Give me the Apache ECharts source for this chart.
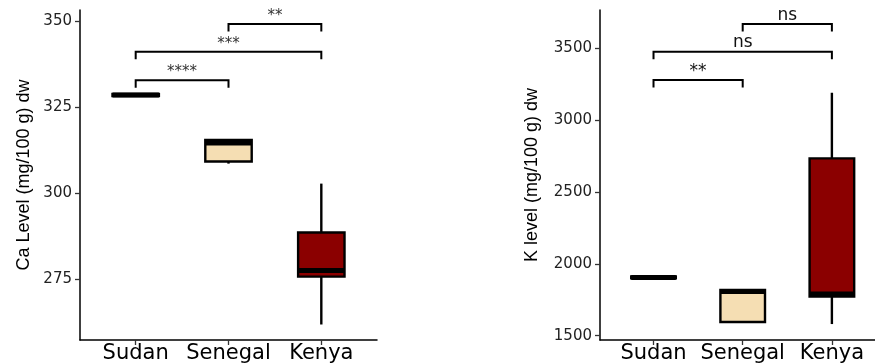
<!DOCTYPE html>
<html>
<head>
<meta charset="utf-8">
<script src="https://cdn.jsdelivr.net/npm/echarts@6/dist/echarts.min.js"></script>
<style>html,body{margin:0;padding:0;background:#fff}#c{width:875px;height:364px}</style>
</head>
<body>
<div id="c"></div>
<script>
// ---- data ----
const categories = ['Sudan', 'Senegal', 'Kenya'];
const caTicks = [275, 300, 325, 350];
const kTicks = [1500, 2000, 2500, 3000, 3500];

// Ca level box stats (per category: Sudan, Senegal, Kenya)
const caLow    = [328.0, 308.6, 261.9];
const caQ1     = [328.2, 309.2, 275.8];
const caMedian = [328.5, 314.6, 277.6];
const caQ3     = [328.8, 315.5, 288.6];
const caHigh   = [329.0, 315.5, 302.8];

// K level box stats
const kLow    = [1895, 1590, 1581];
const kQ1     = [1900, 1595, 1772];
const kMedian = [1905, 1808, 1790];
const kQ3     = [1912, 1818, 2734];
const kHigh   = [1915, 1818, 3191];

// significance brackets
const caPairs = [[1, 2], [1, 3], [2, 3]];
const caSigY = [332.8, 341.1, 349.1];
const caSigLabels = ['****', '***', '**'];
const kPairs = [[1, 2], [1, 3], [2, 3]];
const kSigY = [3279, 3476, 3669];
const kSigLabels = ['**', 'ns', 'ns'];

// ---- styles ----
const fills = ['#FFFFFF', '#F5DEB3', '#8B0000'];
const tickFont = 'DejaVu Sans';
const titleFont = 'Liberation Sans';

function boxData(lo, q1, md, q3, hi) {
  return categories.map((c, i) => [i + 1, lo[i], q1[i], md[i], q3[i], hi[i]]);
}
function sigData(pairs, ys) {
  return pairs.map((p, i) => [p[0], p[1], ys[i]]);
}

function renderBox(params, api) {
  const x = api.value(0);
  const lo = api.value(1), q1 = api.value(2), md = api.value(3), q3 = api.value(4), hi = api.value(5);
  const half = 0.25;
  const tl = api.coord([x - half, q3]);
  const br = api.coord([x + half, q1]);
  const pHi = api.coord([x, hi]), pQ3 = api.coord([x, q3]);
  const pQ1 = api.coord([x, q1]), pLo = api.coord([x, lo]);
  const mL = api.coord([x - half, md]), mR = api.coord([x + half, md]);
  const ls = { stroke: '#000', lineWidth: 2.4 };
  return {
    type: 'group',
    children: [
      { type: 'line', shape: { x1: pHi[0], y1: pHi[1], x2: pQ3[0], y2: pQ3[1] }, style: ls },
      { type: 'line', shape: { x1: pQ1[0], y1: pQ1[1], x2: pLo[0], y2: pLo[1] }, style: ls },
      { type: 'rect', shape: { x: tl[0], y: tl[1], width: br[0] - tl[0], height: br[1] - tl[1] },
        style: { fill: fills[params.dataIndex], stroke: '#000', lineWidth: 2.4 } },
      { type: 'line', shape: { x1: mL[0], y1: mL[1], x2: mR[0], y2: mR[1] },
        style: { stroke: '#000', lineWidth: 5 } }
    ]
  };
}

function makeSigRenderer(labels, fontSize, color) {
  return function (params, api) {
    const a = api.coord([api.value(0), api.value(2)]);
    const b = api.coord([api.value(1), api.value(2)]);
    const drop = 7.5;
    const ls = { stroke: '#000', lineWidth: 2, fill: null };
    return {
      type: 'group',
      children: [
        { type: 'polyline', shape: { points: [[a[0], a[1] + drop], [a[0], a[1]], [b[0], b[1]], [b[0], b[1] + drop]] }, style: ls },
        { type: 'text', style: { text: labels[params.dataIndex], x: (a[0] + b[0]) / 2, y: a[1] - 0.5,
          align: 'center', verticalAlign: 'bottom', fontSize: fontSize, fontFamily: tickFont, fill: color } }
      ]
    };
  };
}

function xAxisCfg(gi) {
  return {
    gridIndex: gi, type: 'value', min: 0.4, max: 3.6,
    splitLine: { show: false },
    axisLine: { show: true, onZero: false, lineStyle: { color: '#000', width: 1.5 } },
    axisTick: { show: true, customValues: [1, 2, 3], length: 5, lineStyle: { color: '#333', width: 1.3 } },
    axisLabel: { customValues: [1, 2, 3], formatter: v => categories[Math.round(v) - 1],
      fontSize: 21, fontFamily: tickFont, color: '#000', margin: 3 }
  };
}
function yAxisCfg(gi, range, ticks, name, gap) {
  return {
    gridIndex: gi, type: 'value', min: range[0], max: range[1],
    name: name, nameLocation: 'middle', nameRotate: 90, nameGap: gap,
    nameTextStyle: { fontSize: 18, fontFamily: titleFont, color: '#000' },
    splitLine: { show: false },
    axisLine: { show: true, onZero: false, lineStyle: { color: '#000', width: 1.5 } },
    axisTick: { show: true, customValues: ticks, length: 5, lineStyle: { color: '#333', width: 1.3 } },
    axisLabel: { customValues: ticks, formatter: v => String(v),
      fontSize: 15, fontFamily: tickFont, color: '#222', margin: 8 }
  };
}

const chart = echarts.init(document.getElementById('c'), null, { renderer: 'canvas' });
chart.setOption({
  animation: false,
  backgroundColor: '#fff',
  grid: [
    { left: 80, top: 10, width: 297, height: 330, outerBoundsMode: 'none', containLabel: false },
    { left: 600, top: 10, width: 285.4, height: 330, outerBoundsMode: 'none', containLabel: false }
  ],
  xAxis: [xAxisCfg(0), xAxisCfg(1)],
  yAxis: [
    yAxisCfg(0, [257.4, 353.2], caTicks, 'Ca Level (mg/100 g) dw', 47),
    yAxisCfg(1, [1470, 3767], kTicks, 'K level (mg/100 g) dw', 59)
  ],
  series: [
    { type: 'custom', xAxisIndex: 0, yAxisIndex: 0, clip: false, renderItem: renderBox,
      encode: { x: 0, y: [1, 2, 3, 4, 5] }, data: boxData(caLow, caQ1, caMedian, caQ3, caHigh) },
    { type: 'custom', xAxisIndex: 1, yAxisIndex: 1, clip: false, renderItem: renderBox,
      encode: { x: 0, y: [1, 2, 3, 4, 5] }, data: boxData(kLow, kQ1, kMedian, kQ3, kHigh) },
    { type: 'custom', xAxisIndex: 0, yAxisIndex: 0, clip: false,
      renderItem: makeSigRenderer(caSigLabels, 15, '#333'),
      encode: { x: [0, 1], y: 2 }, data: sigData(caPairs, caSigY) },
    { type: 'custom', xAxisIndex: 1, yAxisIndex: 1, clip: false,
      renderItem: makeSigRenderer(kSigLabels, 17, '#111'),
      encode: { x: [0, 1], y: 2 }, data: sigData(kPairs, kSigY) }
  ]
});
</script>
</body>
</html>
